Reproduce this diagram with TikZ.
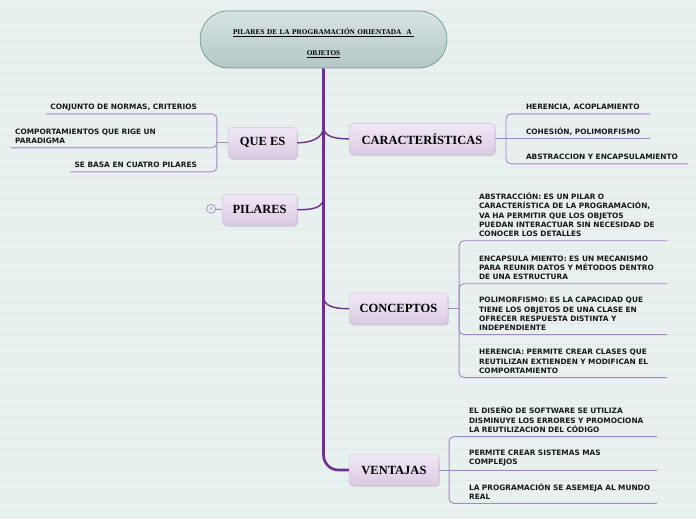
\documentclass[tikz,border=0pt]{standalone}
\usepackage{fontspec}
\setmainfont{Liberation Serif}
\newfontfamily\leaffont{DejaVu Sans}
\usetikzlibrary{calc,shadows}
\definecolor{bgmap}{RGB}{232,241,240}
\definecolor{bgrule}{RGB}{223,234,232}
\definecolor{trunkcol}{RGB}{108,48,142}
\definecolor{leafcol}{RGB}{165,135,195}
\definecolor{topictop}{RGB}{241,233,245}
\definecolor{topicbot}{RGB}{218,201,227}
\definecolor{topicedge}{RGB}{206,190,217}
\definecolor{titletop}{RGB}{216,228,228}
\definecolor{titlebot}{RGB}{178,198,197}
\definecolor{titleedge}{RGB}{110,152,147}
\tikzset{trunk/.style={trunkcol,line width=2.6pt},branch/.style={trunkcol,line width=1.4pt},
 leaf/.style={leafcol,line width=0.9pt,rounded corners=5pt},
 topic/.style={draw=topicedge,line width=0.4pt,rounded corners=4pt,top color=topictop,bottom color=topicbot,
  drop shadow={opacity=0.25,shadow xshift=1pt,shadow yshift=-1.5pt},minimum height=31pt,
  font=\fontsize{12.5}{14}\selectfont\bfseries},
 leaftext/.style={align=left,inner xsep=0pt,inner ysep=4pt,text=black!90,
  font=\leaffont\bfseries\fontsize{7.4}{9.2}\selectfont},
 oneline/.style={leaftext,text depth=0pt}}

\begin{document}
\begin{tikzpicture}[x=1pt,y=1pt]
\fill[bgmap] (0,0) rectangle (696,520);
\foreach \n in {1,...,49} \draw[bgrule,line width=0.7pt] (0,520-10.45*\n) -- (696,520-10.45*\n);
\useasboundingbox (0,0) rectangle (696,520);
\node[draw=titleedge,line width=0.7pt,rounded corners=28pt,top color=titletop,bottom color=titlebot,
 minimum width=247pt,minimum height=57pt,text width=200pt,text height=7pt,text depth=17pt,align=center,
 font=\fontsize{7.3}{21}\selectfont\bfseries]
 (T) at (323.5,480.5) {\underline{PILARES DE LA PROGRAMACIÓN ORIENTADA\ \ A\ }\\\underline{OBJETOS}};
\node[topic,minimum width=146pt] (C) at (422,381) {CARACTERÍSTICAS};
\node[topic,minimum width=69pt] (Q) at (262.5,377) {QUE ES};
\node[topic,minimum width=75pt] (P) at (259.5,310) {PILARES};
\node[topic,minimum width=99pt] (K) at (398.5,211) {CONCEPTOS};
\node[topic,minimum width=90pt] (V) at (394,49.5) {VENTAJAS};
\draw[trunk,rounded corners=15pt] (T.south) |- (V.west);
\draw[branch] ($(T.south |- C.west)+(0,12)$) to[out=-90,in=180] (C.west);
\draw[branch] ($(T.south |- C.west)+(0,12)$) to[out=-90,in=0] (Q.east);
\draw[branch] ($(T.south |- P.east)+(0,12)$) to[out=-90,in=0] (P.east);
\draw[branch] ($(T.south |- K.west)+(0,12)$) to[out=-90,in=180] (K.west);
\node[circle,draw=leafcol,fill=bgmap,line width=0.7pt,inner sep=0pt,minimum size=9pt,text=gray,
 font=\fontsize{5}{5}\selectfont] (Pm) at (211,311) {4};
\draw[leaf] (Pm) -- (P.west);
\coordinate (kq) at ($(Q.west)+(-11,0)$);
\node[oneline,inner xsep=4pt,anchor=south east] (q1) at (201,406) {CONJUNTO DE NORMAS, CRITERIOS};
\node[leaftext,inner xsep=4pt,anchor=south east,text width=182pt] (q2) at (201,372) {COMPORTAMIENTOS QUE RIGE UN\\PARADIGMA};
\node[oneline,inner xsep=4pt,anchor=south east] (q3) at (201,348) {SE BASA EN CUATRO PILARES};
\draw[leaf] (Q.west) -- (kq);
\draw[leaf] (kq) |- (q1.south west);
\draw[leaf] (kq) |- (q2.south west);
\draw[leaf] (kq) |- (q3.south west);
\coordinate (kc) at ($(C.east)+(11,0)$);
\node[oneline,anchor=south west] (c1) at (526,406) {HERENCIA, ACOPLAMIENTO};
\node[oneline,anchor=south west] (c2) at (526,381) {COHESIÓN, POLIMORFISMO};
\node[oneline,anchor=south west] (c3) at (526,356) {ABSTRACCION Y ENCAPSULAMIENTO};
\draw[leaf] (C.east) -- (kc);
\draw[leaf] (kc) |- ([xshift=10pt]c1.south east);
\draw[leaf] (kc |- c2.south) -- ([xshift=10pt]c2.south east);
\draw[leaf] (kc) |- ([xshift=10pt]c3.south east);
\coordinate (kk) at ($(K.east)+(11,0)$);
\node[leaftext,anchor=south west,text width=188pt] (k1) at (479,279) {ABSTRACCIÓN: ES UN PILAR O\\CARACTERÍSTICA DE LA PROGRAMACIÓN,\\VA HA PERMITIR QUE LOS OBJETOS\\PUEDAN INTERACTUAR SIN NECESIDAD DE\\CONOCER LOS DETALLES};
\node[leaftext,anchor=south west,text width=188pt] (k2) at (479,236) {ENCAPSULA MIENTO: ES UN MECANISMO\\PARA REUNIR DATOS Y MÉTODOS DENTRO\\DE UNA ESTRUCTURA};
\node[leaftext,anchor=south west,text width=188pt] (k3) at (479,185) {POLIMORFISMO: ES LA CAPACIDAD QUE\\TIENE LOS OBJETOS DE UNA CLASE EN\\OFRECER RESPUESTA DISTINTA Y\\INDEPENDIENTE};
\node[leaftext,anchor=south west,text width=188pt] (k4) at (479,142) {HERENCIA: PERMITE CREAR CLASES QUE\\REUTILIZAN EXTIENDEN Y MODIFICAN EL\\COMPORTAMIENTO};
\draw[leaf] (K.east) -- (kk);
\draw[leaf] (kk) |- (k1.south east);
\draw[leaf] (kk) |- (k2.south east);
\draw[leaf] (kk) |- (k3.south east);
\draw[leaf] (kk) |- (k4.south east);
\coordinate (kv) at ($(V.east)+(10,0)$);
\node[leaftext,anchor=south west,text width=188pt] (v1) at (469,83) {EL DISEÑO DE SOFTWARE SE UTILIZA\\DISMINUYE LOS ERRORES Y PROMOCIONA\\LA REUTILIZACION DEL CÓDIGO};
\node[leaftext,anchor=south west,text width=188pt] (v2) at (469,49.5) {PERMITE CREAR SISTEMAS MAS\\COMPLEJOS};
\node[leaftext,anchor=south west,text width=188pt] (v3) at (469,16) {LA PROGRAMACIÓN SE ASEMEJA AL MUNDO\\REAL};
\draw[leaf] (V.east) -- (kv);
\draw[leaf] (kv) |- (v1.south east);
\draw[leaf] (kv |- v2.south) -- (v2.south east);
\draw[leaf] (kv) |- (v3.south east);
\end{tikzpicture}
\end{document}
